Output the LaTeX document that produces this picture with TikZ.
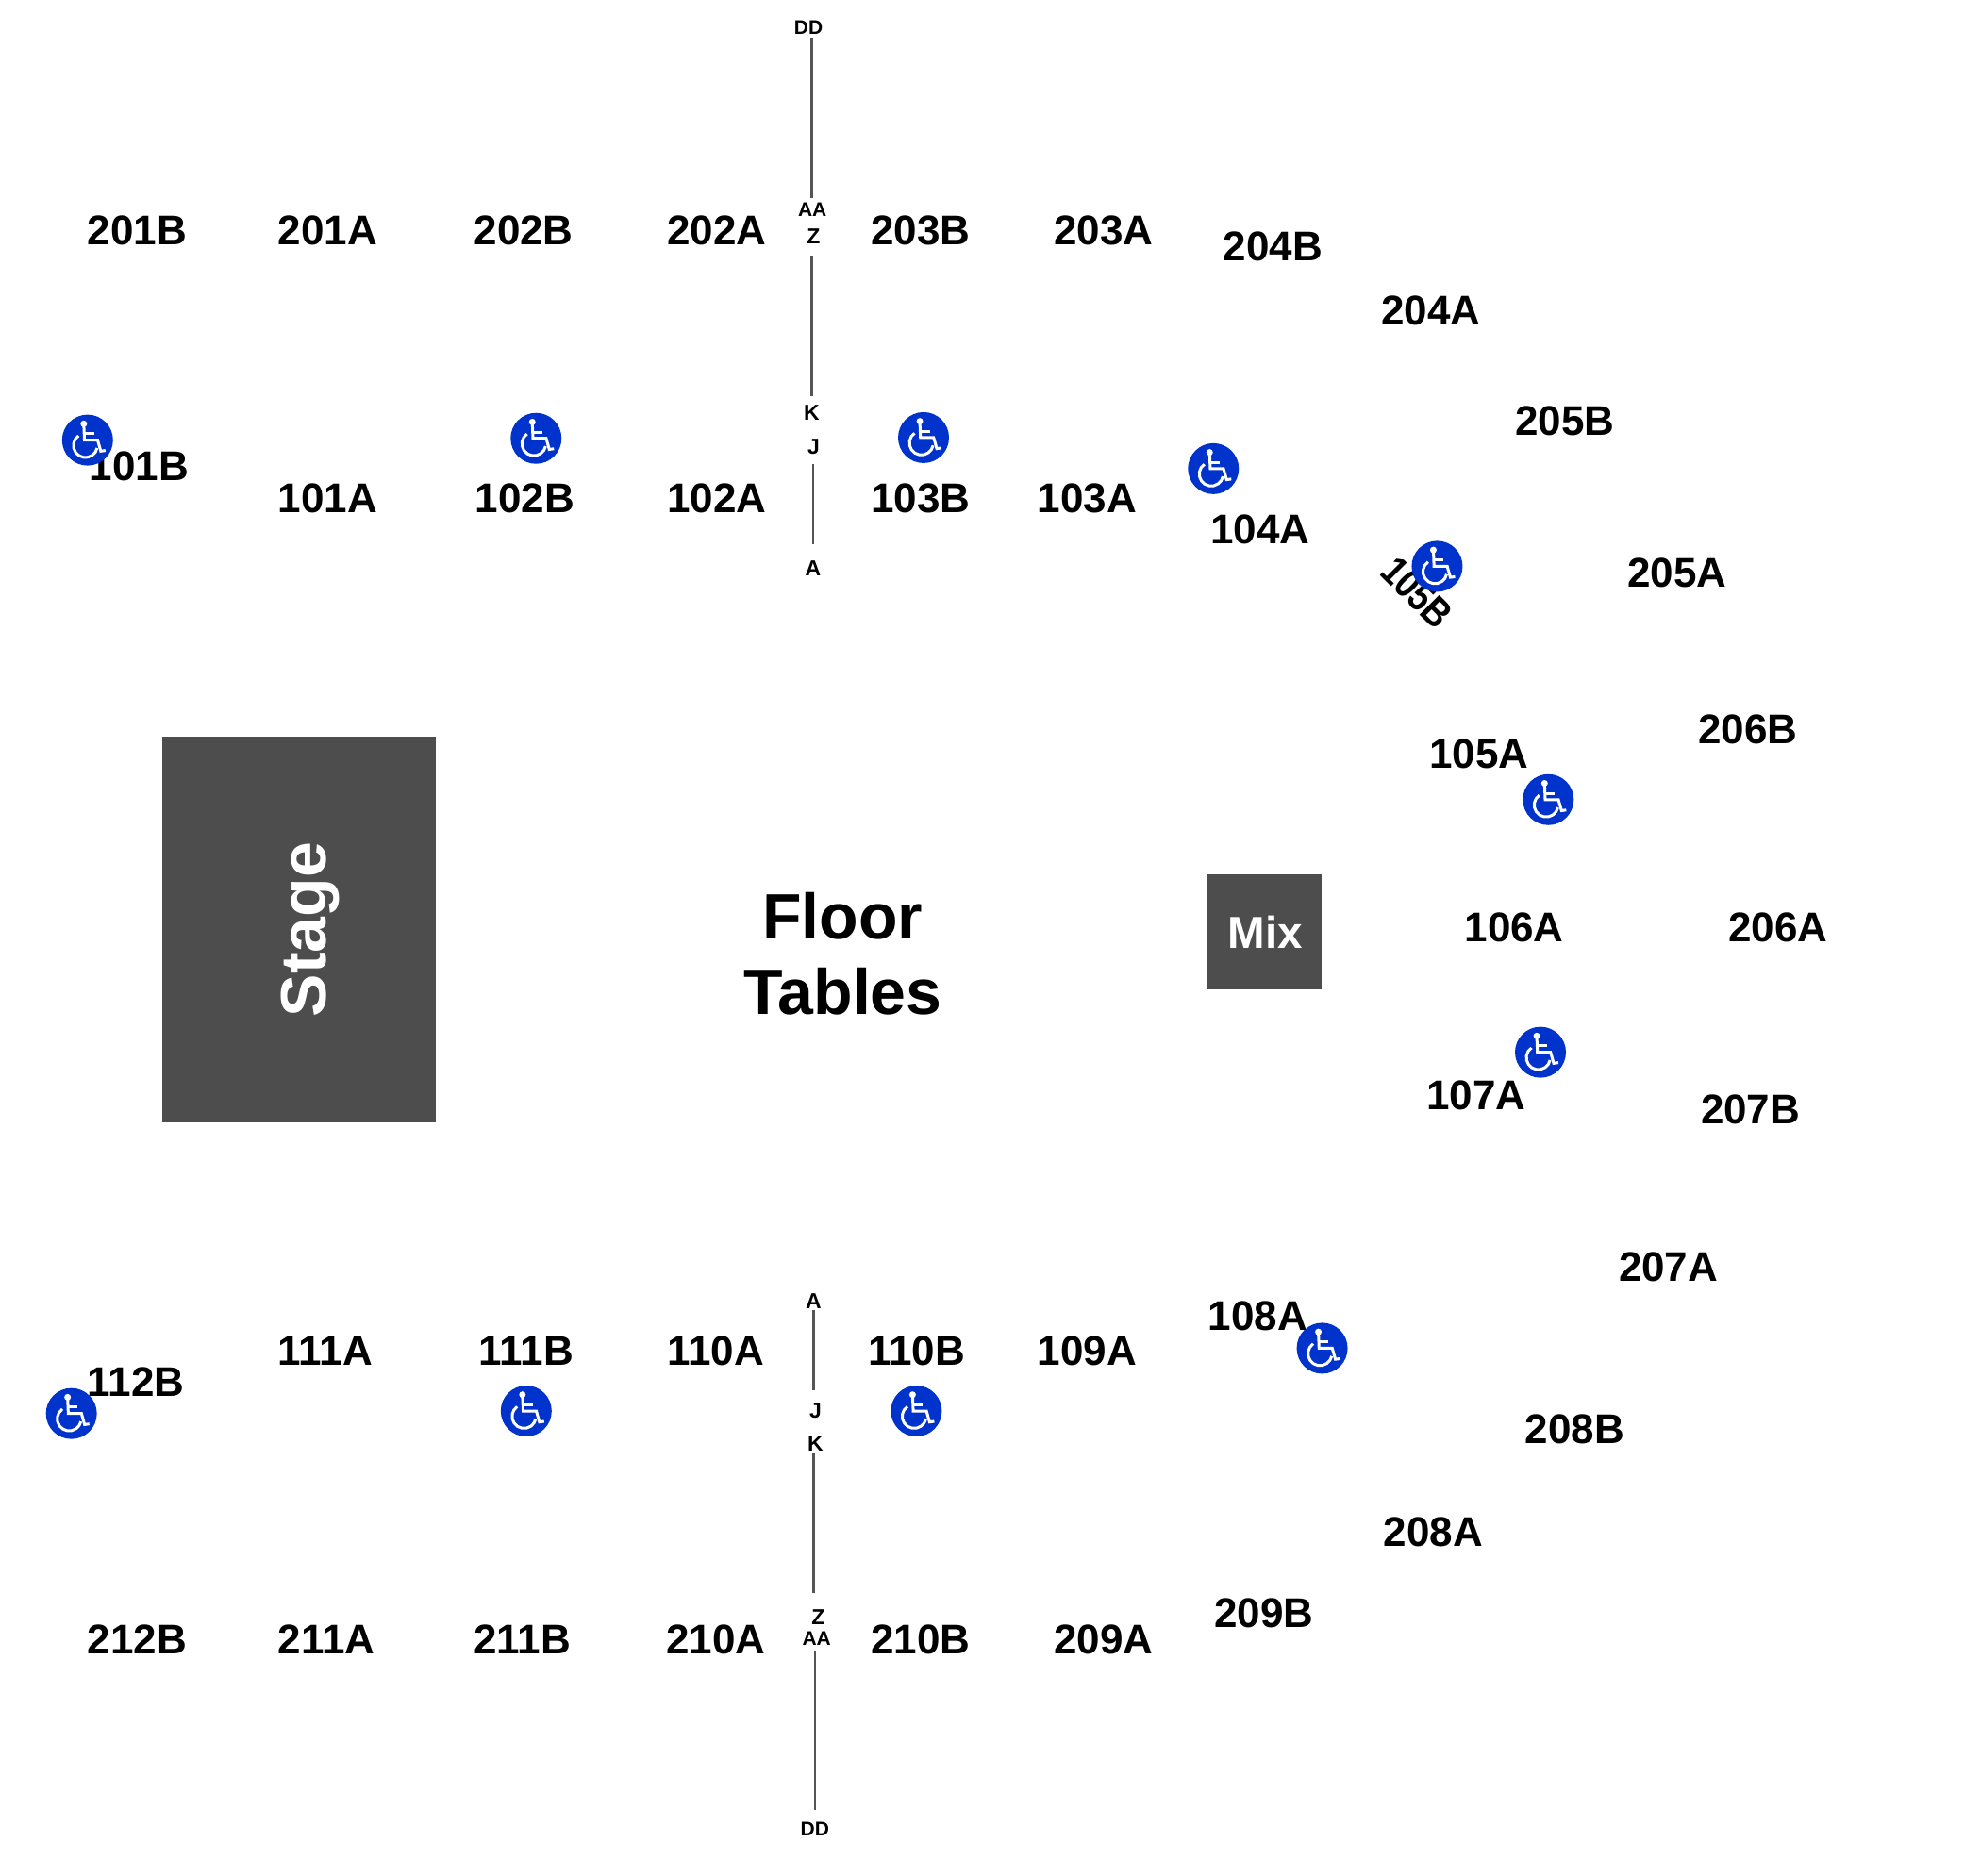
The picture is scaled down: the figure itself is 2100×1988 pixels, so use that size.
\documentclass[tikz,border=0pt]{standalone}
\usepackage{fontspec}
\usepackage{xcolor}
\setmainfont{Liberation Sans}
\definecolor{blockcolor}{RGB}{77,77,77}
\definecolor{railcolor}{RGB}{85,85,85}
\definecolor{wccolor}{RGB}{0,51,204}
\tikzset{
  seclabel/.style={font=\fontsize{44}{48}\selectfont\bfseries,inner sep=0pt,xshift=0.7pt,yshift=-0.2pt},
  rowlabel/.style={font=\fontsize{23}{25}\selectfont\bfseries,inner sep=0pt,minimum height=16pt},
  dbllabel/.style={rowlabel,font=\fontsize{21}{23}\selectfont\bfseries},
  rowline/.style={draw=railcolor,line width=2.2pt},
  blockbox/.style={fill=blockcolor,inner sep=0pt},
  wcdisc/.style={circle,fill=wccolor,minimum size=54pt,inner sep=0pt},
  wcline/.style={draw=white,line width=3pt},
  pics/wcglyph/.style={code={
    \begin{scope}[x=1pt,y=1pt]
    \fill[white](-4,17.3) circle (3.5);
    \draw[wcline](-4,17.3)--(-3.3,0)--(10.7,0)--(14,-11.7)--(19,-11);
    \draw[wcline](-3.3,6.7)--(6.7,6.7);
    \draw[wcline](-2.3,-5.7)++(125:12.7) arc (125:348:12.7);
    \end{scope}}}
}
\begin{document}
\begin{tikzpicture}[x=1.3393pt,y=-1.3393pt]
\useasboundingbox (0,0) rectangle (2100pt,-1988pt);
\node[blockbox,minimum width=290.6pt,minimum height=408.5pt](stagebox) at (236.7,735.7){};
\node[blockbox,minimum width=121.9pt,minimum height=121.9pt](mixbox) at (1000.5,737.5){};
\node[font=\fontsize{68}{72}\selectfont\bfseries,text=white,rotate=90,inner sep=0pt](stage) at (245.5,736){Stage};
\node[font=\fontsize{47.5}{50}\selectfont\bfseries,text=white,inner sep=0pt](mix) at (1001.5,738){Mix};
\node[font=\fontsize{68}{80}\selectfont\bfseries,align=center,inner sep=0pt](floor) at (667,755){Floor\\Tables};
% upper and right sections
\foreach \secname/\x/\y in {201B/108/182,201A/259/182,202B/414/182,202A/567/182,203B/728/182,203A/873/182,204B/1007/195,204A/1132/246,205B/1238/333,205A/1327/453,206B/1383/577,206A/1407/734,207B/1385/878,207A/1320/1003,208B/1246/1131,208A/1134/1213,209B/1000/1277,209A/873/1298,210B/728/1298,210A/566/1298,211B/413/1298,211A/258/1298,212B/108/1298}
  \node[seclabel](s\secname) at (\x,\y){\secname};
% lower level sections
\foreach \secname/\x/\y in {101B/109.5/369,101A/259/394,102B/415/394,102A/567/394,103B/728/394,103A/860/394,104A/997/419,105A/1170/597,106A/1198/734,107A/1168/867,108A/995/1042,109A/860/1069,110B/725/1069,110A/566/1069,111B/416/1069,111A/257/1069,112B/107/1094}
  \node[seclabel](s\secname) at (\x,\y){\secname};
\node[font=\fontsize{43}{46}\selectfont\bfseries,inner sep=0pt,rotate=-45,xscale=0.84](s105B) at (1121.6,469){105B};
% row letters
\node[dbllabel](tDD) at (640,22){DD}; \node[dbllabel](tAA) at (643,166){AA}; \node[rowlabel](tZ) at (644,187){Z};
\node[rowlabel](tK) at (642.5,327){K}; \node[rowlabel](tJ) at (644,354){J}; \node[rowlabel](tA) at (643.5,450){A};
\node[rowlabel](bA) at (644,1030){A}; \node[rowlabel](bJ) at (645.5,1117){J}; \node[rowlabel](bK) at (645.5,1143){K};
\node[rowlabel](bZ) at (647.6,1280){Z}; \node[dbllabel](bAA) at (646.4,1297){AA}; \node[dbllabel](bDD) at (645,1448){DD};
\draw[rowline,shorten <=2.7pt,shorten >=4pt](tDD.south -| tK)--(tAA.north -| tK);
\draw[rowline,shorten <=12pt,shorten >=9.4pt](tZ.south -| tK)--(tK.north);
\draw[rowline,shorten <=9.4pt,shorten >=17.4pt](tJ.south -| tA)--(tA.north);
\draw[rowline,shorten <=1.3pt,shorten >=13.4pt](bA.south)--(bJ.north -| bA);
\draw[rowline,shorten <=0.7pt,shorten >=16.7pt](bK.south -| bA)--(bZ.north -| bA);
\draw[rowline,shorten <=4.7pt,shorten >=12pt](bAA.south -| bDD)--(bDD.north);
% wheelchair spots
\foreach \wcname/\x/\y in {wca/69.3/348.4,wcb/424.3/347,wcc/731/346.4,wcd/960.4/371,wce/1137.5/448.3,wcf/1225.5/633,wcg/1219.3/833,wch/1046.5/1067.3,wci/416.5/1117,wcj/725.3/1117,wck/56.5/1119}{
  \node[wcdisc](\wcname) at (\x,\y){};
  \pic at (\wcname) {wcglyph};
}
\end{tikzpicture}
\end{document}
